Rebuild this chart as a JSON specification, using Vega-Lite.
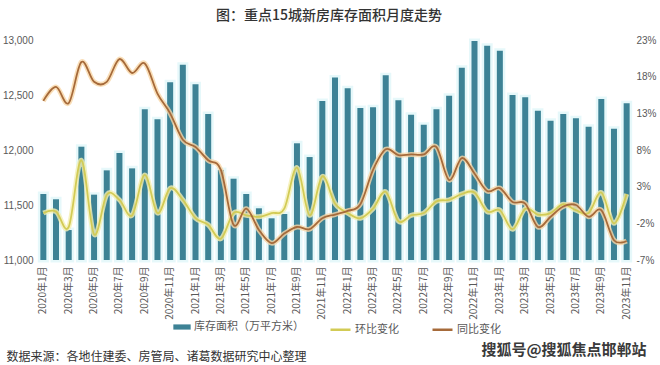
{
  "$schema": "https://vega.github.io/schema/vega-lite/v6.json",
  "width": 596,
  "height": 220,
  "autosize": {"type": "none"},
  "padding": {"left": 37, "top": 40, "right": 27, "bottom": 105},
  "background": "#ffffff",
  "title": {"text": "图：重点15城新房库存面积月度走势", "font": "Noto Sans CJK SC", "fontSize": 14, "fontWeight": 500, "color": "#333333", "anchor": "middle", "offset": 12, "dx": -6},
  "config": {
    "view": {"stroke": null},
    "axis": {"grid": false, "domain": false, "ticks": false, "labelFont": "Liberation Sans", "labelColor": "#595959", "labelFontSize": 10},
    "legend": {"labelFont": "Noto Sans CJK SC", "labelFontSize": 11, "labelColor": "#595959"}
  },
  "data": {"values": [
    {"m": "2020年1月", "inv": 11600, "mom": -0.6, "yoy": 14.7},
    {"m": "2020年2月", "inv": 11552, "mom": -0.4, "yoy": 16.6},
    {"m": "2020年3月", "inv": 11273, "mom": -2.5, "yoy": 14.4},
    {"m": "2020年4月", "inv": 12030, "mom": 6.6, "yoy": 20.0},
    {"m": "2020年5月", "inv": 11594, "mom": -3.5, "yoy": 17.3},
    {"m": "2020年6月", "inv": 11815, "mom": 1.9, "yoy": 17.3},
    {"m": "2020年7月", "inv": 11973, "mom": 1.2, "yoy": 20.4},
    {"m": "2020年8月", "inv": 11833, "mom": -0.9, "yoy": 18.5},
    {"m": "2020年9月", "inv": 12370, "mom": 4.6, "yoy": 19.8},
    {"m": "2020年10月", "inv": 12279, "mom": -0.6, "yoy": 15.7},
    {"m": "2020年11月", "inv": 12615, "mom": 2.8, "yoy": 13.0},
    {"m": "2020年12月", "inv": 12776, "mom": 1.2, "yoy": 9.4},
    {"m": "2021年1月", "inv": 12597, "mom": -1.3, "yoy": 8.4},
    {"m": "2021年2月", "inv": 12327, "mom": -2.2, "yoy": 6.6},
    {"m": "2021年3月", "inv": 11818, "mom": -4.1, "yoy": 5.3},
    {"m": "2021年4月", "inv": 11739, "mom": -0.6, "yoy": -2.2},
    {"m": "2021年5月", "inv": 11600, "mom": -0.9, "yoy": 0.0},
    {"m": "2021年6月", "inv": 11470, "mom": -1.1, "yoy": -2.9},
    {"m": "2021年7月", "inv": 11379, "mom": -0.6, "yoy": -4.7},
    {"m": "2021年8月", "inv": 11418, "mom": 0.0, "yoy": -3.4},
    {"m": "2021年9月", "inv": 12061, "mom": 5.6, "yoy": -2.5},
    {"m": "2021年10月", "inv": 11936, "mom": -0.9, "yoy": -2.8},
    {"m": "2021年11月", "inv": 12445, "mom": 4.4, "yoy": -1.3},
    {"m": "2021年12月", "inv": 12658, "mom": 0.7, "yoy": -0.8},
    {"m": "2022年1月", "inv": 12561, "mom": -0.6, "yoy": -0.3},
    {"m": "2022年2月", "inv": 12382, "mom": -1.3, "yoy": 0.6},
    {"m": "2022年3月", "inv": 12388, "mom": 0.0, "yoy": 5.3},
    {"m": "2022年4月", "inv": 12679, "mom": 2.3, "yoy": 8.1},
    {"m": "2022年5月", "inv": 12452, "mom": -1.7, "yoy": 7.3},
    {"m": "2022年6月", "inv": 12321, "mom": -0.9, "yoy": 7.4},
    {"m": "2022年7月", "inv": 12230, "mom": -0.6, "yoy": 7.4},
    {"m": "2022年8月", "inv": 12370, "mom": 1.0, "yoy": 8.4},
    {"m": "2022年9月", "inv": 12494, "mom": 1.2, "yoy": 3.9},
    {"m": "2022年10月", "inv": 12748, "mom": 2.0, "yoy": 6.9},
    {"m": "2022年11月", "inv": 12991, "mom": 2.2, "yoy": 4.8},
    {"m": "2022年12月", "inv": 12948, "mom": -0.4, "yoy": 2.4},
    {"m": "2023年1月", "inv": 12903, "mom": -0.2, "yoy": 2.8},
    {"m": "2023年2月", "inv": 12500, "mom": -2.8, "yoy": 0.9},
    {"m": "2023年3月", "inv": 12479, "mom": 0.0, "yoy": 0.7},
    {"m": "2023年4月", "inv": 12357, "mom": -0.8, "yoy": -2.5},
    {"m": "2023年5月", "inv": 12267, "mom": -0.6, "yoy": -1.1},
    {"m": "2023年6月", "inv": 12327, "mom": 0.6, "yoy": 0.3},
    {"m": "2023年7月", "inv": 12288, "mom": -0.2, "yoy": 0.5},
    {"m": "2023年8月", "inv": 12212, "mom": -0.6, "yoy": -1.1},
    {"m": "2023年9月", "inv": 12464, "mom": 2.2, "yoy": -0.2},
    {"m": "2023年10月", "inv": 12194, "mom": -2.0, "yoy": -4.3},
    {"m": "2023年11月", "inv": 12424, "mom": 2.0, "yoy": -4.4}
  ]},
  "encoding": {
    "x": {"field": "m", "type": "ordinal", "sort": null,
      "scale": {"paddingInner": 0, "paddingOuter": 0},
      "axis": {"labelAngle": -90, "labelPadding": 6, "labelFont": "Noto Sans CJK SC", "labelFontSize": 10,
        "values": ["2020年1月","2020年3月","2020年5月","2020年7月","2020年9月","2020年11月","2021年1月","2021年3月","2021年5月","2021年7月","2021年9月","2021年11月","2022年1月","2022年3月","2022年5月","2022年7月","2022年9月","2022年11月","2023年1月","2023年3月","2023年5月","2023年7月","2023年9月","2023年11月"],
        "title": "数据来源：各地住建委、房管局、诸葛数据研究中心整理",
        "titleFont": "Noto Sans CJK SC", "titleFontSize": 12, "titleFontWeight": "normal", "titleColor": "#333333",
        "titleAnchor": "start", "titleAlign": "left", "titleBaseline": "middle", "titleX": -31, "titleY": 96}
    }
  },
  "layer": [
    {
      "encoding": {
        "y": {"field": "inv", "type": "quantitative",
          "scale": {"domain": [11000, 13000], "zero": false, "nice": false},
          "axis": {"values": [11000, 11500, 12000, 12500, 13000], "labelPadding": 4, "title": null, "orient": "left"}},
        "y2": {"datum": 11000}
      },
      "layer": [
        {"mark": {"type": "bar", "size": 6, "fill": "#e9f9fb", "stroke": "#e3f7fa", "strokeWidth": 5, "strokeOpacity": 0.9}},
        {"mark": {"type": "bar", "size": 6},
         "encoding": {"fill": {"datum": "库存面积（万平方米）", "type": "nominal",
           "scale": {"range": ["#3d8295"]},
           "legend": {"title": null, "orient": "none", "legendX": 136, "legendY": 278,
             "symbolType": "M-1,-0.3H1V0.3H-1Z", "symbolSize": 300, "symbolStrokeWidth": 0, "labelOffset": 3}}}}
      ]
    },
    {
      "encoding": {
        "y": {"type": "quantitative",
          "scale": {"domain": [-7, 23], "nice": false, "zero": false},
          "axis": {"orient": "right", "values": [-7, -2, 3, 8, 13, 18, 23], "labelExpr": "datum.value + '%'", "labelPadding": 3,
            "title": "搜狐号@搜狐焦点邯郸站", "titleAngle": 0, "titleFont": "Noto Sans CJK SC", "titleFontSize": 15, "titleFontWeight": "bold",
            "titleColor": "#3a3a3a", "titleAlign": "right", "titleBaseline": "middle", "titleX": 13, "titleY": 309}}
      },
      "layer": [
        {"mark": {"type": "line", "interpolate": "cardinal", "stroke": "#f4efb0", "strokeWidth": 5, "opacity": 0.8},
         "encoding": {"y": {"field": "mom"}}},
        {"mark": {"type": "line", "interpolate": "cardinal", "stroke": "#f8d6a6", "strokeWidth": 5, "opacity": 0.8},
         "encoding": {"y": {"field": "yoy"}}},
        {"mark": {"type": "line", "interpolate": "cardinal", "strokeWidth": 1.8},
         "encoding": {"y": {"field": "mom"},
           "stroke": {"datum": "环比变化", "type": "nominal",
             "scale": {"domain": ["环比变化", "同比变化"], "range": ["#d2cb55", "#a66a3a"]},
             "legend": {"title": null, "orient": "none", "direction": "horizontal", "legendX": 292, "legendY": 278,
               "symbolType": "stroke", "symbolSize": 400, "symbolStrokeWidth": 2.5, "labelOffset": 3, "columnPadding": 28}}}},
        {"mark": {"type": "line", "interpolate": "cardinal", "strokeWidth": 1.8},
         "encoding": {"y": {"field": "yoy"}, "stroke": {"datum": "同比变化", "type": "nominal"}}}
      ]
    }
  ],
  "resolve": {"scale": {"y": "independent"}}
}
